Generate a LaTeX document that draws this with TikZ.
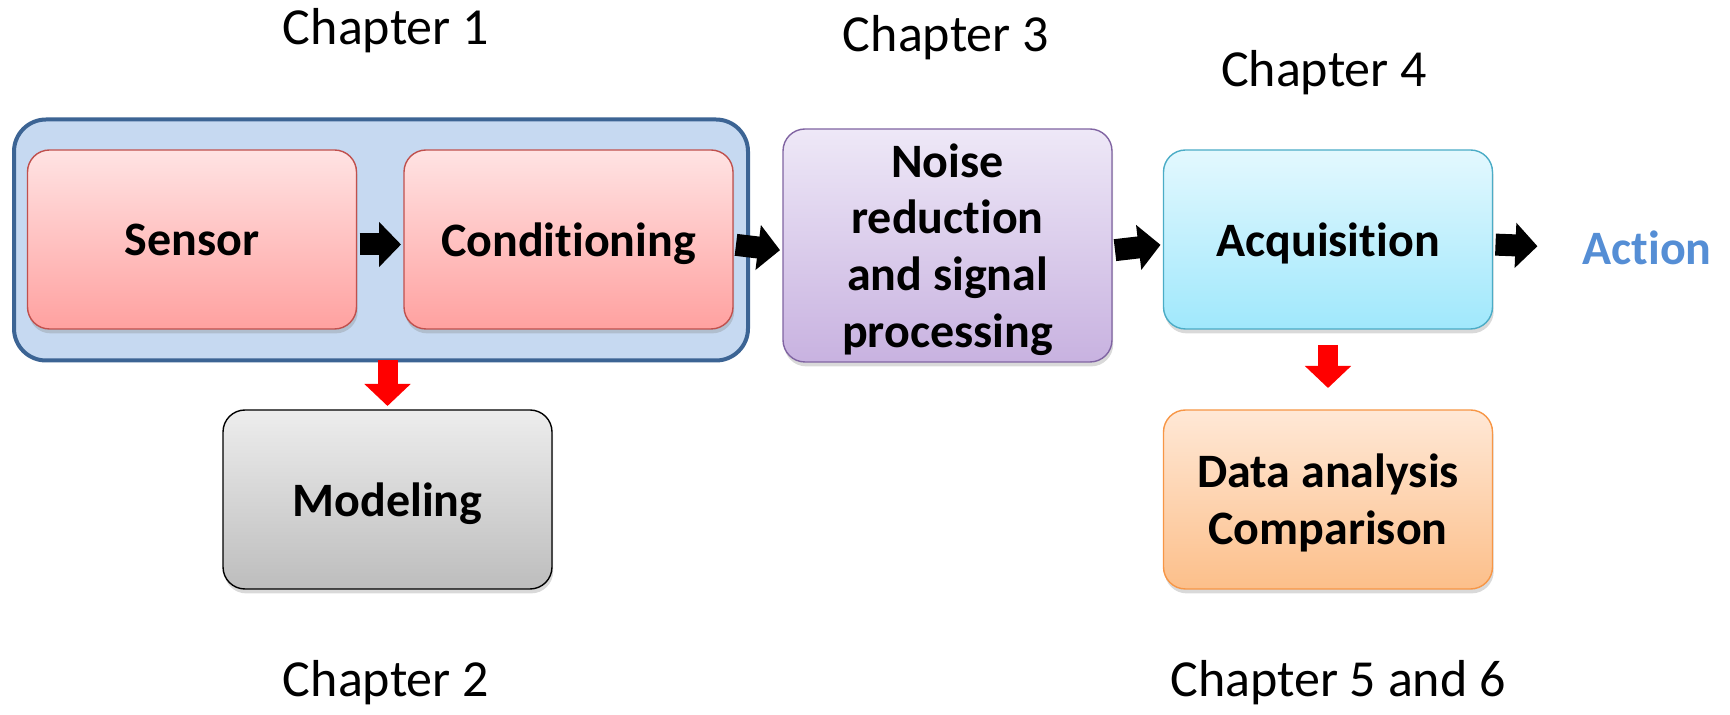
\documentclass[tikz,border=0pt]{standalone}
\usepackage{fontspec}
\setmainfont{Carlito}[Ligatures={NoCommon}]
\usepackage{xcolor}
\usepackage{tikz}
\usetikzlibrary{arrows.meta, shadows}
\definecolor{framedraw}{HTML}{3C6494}
\definecolor{framefill}{HTML}{C6D9F1}
\definecolor{sensordraw}{HTML}{C0504D}
\definecolor{sensortop}{HTML}{FFE3E3}
\definecolor{sensorbot}{HTML}{FFA1A0}
\definecolor{noisedraw}{HTML}{8064A2}
\definecolor{noisetop}{HTML}{EEE8F7}
\definecolor{noisebot}{HTML}{C8B2E0}
\definecolor{acqdraw}{HTML}{4BACC6}
\definecolor{acqtop}{HTML}{E3F8FE}
\definecolor{acqbot}{HTML}{A0E8FC}
\definecolor{modeltop}{HTML}{EDEDED}
\definecolor{modelbot}{HTML}{BDBDBD}
\definecolor{datadraw}{HTML}{F79646}
\definecolor{datatop}{HTML}{FFE8D6}
\definecolor{databot}{HTML}{FCBF8A}
\definecolor{actioncolor}{HTML}{558ED5}

\tikzset{
  stage/.style={draw, rounded corners=11pt, line width=0.7pt,
    minimum width=164.5pt, minimum height=89.5pt, inner sep=0pt, outer sep=0pt,
    text depth=0pt, align=center, font=\fontsize{24}{28.4}\selectfont\bfseries,
    drop shadow={shadow xshift=0.6pt, shadow yshift=-2.2pt, opacity=0.3}},
  chapter/.style={anchor=base, font=\fontsize{26}{31}\selectfont},
  blockarrow/.style={line width=11pt, -{Triangle[length=11pt, width=22pt]},
    shorten <=1.5pt, shorten >=1.5pt},
  redarrow/.style={red, line width=10pt, -{Triangle[length=11pt, width=22.5pt]}}
}

\begin{document}
\begin{tikzpicture}[x=0.5pt, y=-0.5pt]
  \useasboundingbox (0,0) rectangle (1730,715);

  % Chapter labels
  \node[chapter] (ch1) at (386, 45) {Chapter 1};
  \node[chapter] (ch3) at (946, 52) {Chapter 3};
  \node[chapter] (ch4) at (1324, 87) {Chapter 4};
  \node[chapter] (ch2) at (386, 697) {Chapter 2};
  \node[chapter] (ch56) at (1338, 697) {Chapter 5 and 6};

  % Chapter 1 frame
  \node[draw=framedraw, fill=framefill, line width=2pt, rounded corners=16pt,
    minimum width=367pt, minimum height=120.5pt, outer sep=0pt] (frame) at (381, 240) {};

  % Stages
  \node[stage, draw=sensordraw, top color=sensortop, bottom color=sensorbot] (sensor) at (192, 239.5) {Sensor};
  \node[stage, draw=sensordraw, top color=sensortop, bottom color=sensorbot] (cond) at (568.5, 239.5) {Conditioning};
  \node[stage, draw=noisedraw, top color=noisetop, bottom color=noisebot,
    minimum height=116.5pt] (noise) at (947.5, 245.5) {Noise\\reduction\\and signal\\processing};
  \node[stage, draw=acqdraw, top color=acqtop, bottom color=acqbot] (acq) at (1328, 239.5) {Acquisition};
  \node[stage, draw=black, top color=modeltop, bottom color=modelbot] (model) at (387.5, 499.5) {Modeling};
  \node[stage, draw=datadraw, top color=datatop, bottom color=databot] (data) at (1328, 499.5) {Data analysis\\Comparison};
  \node[inner sep=0pt, outer sep=0pt, text=actioncolor, font=\fontsize{24}{28}\selectfont\bfseries] (action) at (1647, 248) {Action};

  % Flow arrows
  \draw[blockarrow] ([yshift=-2.5pt]sensor.east) -- ([yshift=-2.5pt]cond.west);
  \draw[blockarrow] ([yshift=-2.5pt]cond.east) -- ([yshift=-2.5pt]noise.west);
  \draw[blockarrow] ([yshift=-2.5pt]noise.east) -- ([yshift=-2.5pt]acq.west);
  \draw[blockarrow, shorten >=22.5pt] ([yshift=-2.5pt]acq.east) -- ([yshift=0pt]action.west);

  % Outputs
  \draw[redarrow, shorten >=2pt] (frame.south -| model.north) -- (model.north);
  \draw[redarrow, shorten <=8pt, shorten >=11pt] (acq.south) -- (data.north);
\end{tikzpicture}
\end{document}
